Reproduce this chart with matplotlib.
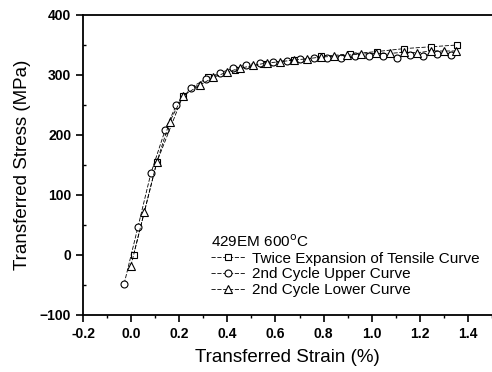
import numpy as np
import matplotlib
matplotlib.use("Agg")
import matplotlib.pyplot as plt
from matplotlib.ticker import MultipleLocator

plt.rcParams['font.family'] = ['Liberation Sans', 'DejaVu Sans']

# twice expansion of tensile curve (squares)
sq_x = [0.01, 0.107, 0.215, 0.32, 0.43, 0.55, 0.676, 0.79, 0.91, 1.02, 1.135, 1.245, 1.355]
sq_y = [0, 155, 265, 296, 309, 319, 325, 331, 335, 339, 344, 347, 350]

# 2nd cycle upper curve (circles)
up_x = [-0.029, 0.028, 0.082, 0.142, 0.188, 0.249, 0.313, 0.371, 0.424, 0.479, 0.535,
        0.590, 0.646, 0.704, 0.760, 0.815, 0.871, 0.93, 0.988, 1.049, 1.104, 1.160,
        1.215, 1.271, 1.329]
up_y = [-48, 46, 136, 209, 250, 279, 294, 304, 311, 317, 320,
        322, 324, 326, 328, 329, 329, 332, 331, 331, 329, 333,
        332, 335, 333]

# 2nd cycle lower curve (triangles)
lo_x = [-0.001, 0.055, 0.107, 0.160, 0.215, 0.285, 0.342, 0.399, 0.451, 0.507, 0.563,
        0.618, 0.676, 0.733, 0.788, 0.843, 0.899, 0.957, 1.018, 1.076, 1.135, 1.188,
        1.245, 1.299, 1.35]
lo_y = [-18, 72, 155, 222, 265, 283, 296, 305, 311, 316, 320,
        322, 325, 327, 330, 331, 333, 335, 336, 336, 338, 337,
        340, 340, 340]

labels = ['Twice Expansion of Tensile Curve', '2nd Cycle Upper Curve', '2nd Cycle Lower Curve']

fig = plt.figure(figsize=(4.92, 3.72), dpi=100)
ax = fig.add_axes([83 / 492, 1 - 315 / 372, 409 / 492, 300 / 372])

ls = (0, (5, 2))
ax.plot(sq_x, sq_y, color='black', ls=ls, lw=0.6, marker='s', ms=4.5,
        mfc='white', mec='black', mew=0.8, label=labels[0])
ax.plot(up_x, up_y, color='black', ls=ls, lw=0.6, marker='o', ms=5,
        mfc='white', mec='black', mew=0.8, label=labels[1])
ax.plot(lo_x, lo_y, color='black', ls=ls, lw=0.6, marker='^', ms=5.5,
        mfc='white', mec='black', mew=0.8, label=labels[2])

ax.set_xlim(-0.2, 1.5)
ax.set_ylim(-100, 400)
ax.xaxis.set_minor_locator(MultipleLocator(0.1))
ax.yaxis.set_major_locator(MultipleLocator(100))
ax.yaxis.set_minor_locator(MultipleLocator(50))
ax.set_xticks(np.arange(-0.2, 1.41, 0.2))
ax.xaxis.set_major_formatter(matplotlib.ticker.FormatStrFormatter('%.1f'))

ax.spines['right'].set_visible(False)
for s in ['left', 'bottom', 'top']:
    ax.spines[s].set_linewidth(1.3)
ax.tick_params(which='major', direction='out', length=5, width=1.2, labelsize=10)
ax.tick_params(which='minor', direction='out', length=2.5, width=1.0)
ax.tick_params(axis='y', which='minor', direction='in')
ax.tick_params(top=False, right=False)
for t in ax.get_xticklabels() + ax.get_yticklabels():
    t.set_fontweight('bold')

ax.set_xlabel('Transferred Strain (%)', fontsize=13.5, labelpad=6)
ax.set_ylabel('Transferred Stress (MPa)', fontsize=13.5, labelpad=6)

leg = ax.legend(loc='upper left', bbox_to_anchor=(0.298, 0.293), frameon=False,
                title='429EM 600$^{\\mathrm{o}}$C', fontsize=11, title_fontsize=11,
                handlelength=2.2, handletextpad=0.5, labelspacing=0.12,
                borderaxespad=0, alignment='left')

fig.savefig('out.png', dpi=100)
